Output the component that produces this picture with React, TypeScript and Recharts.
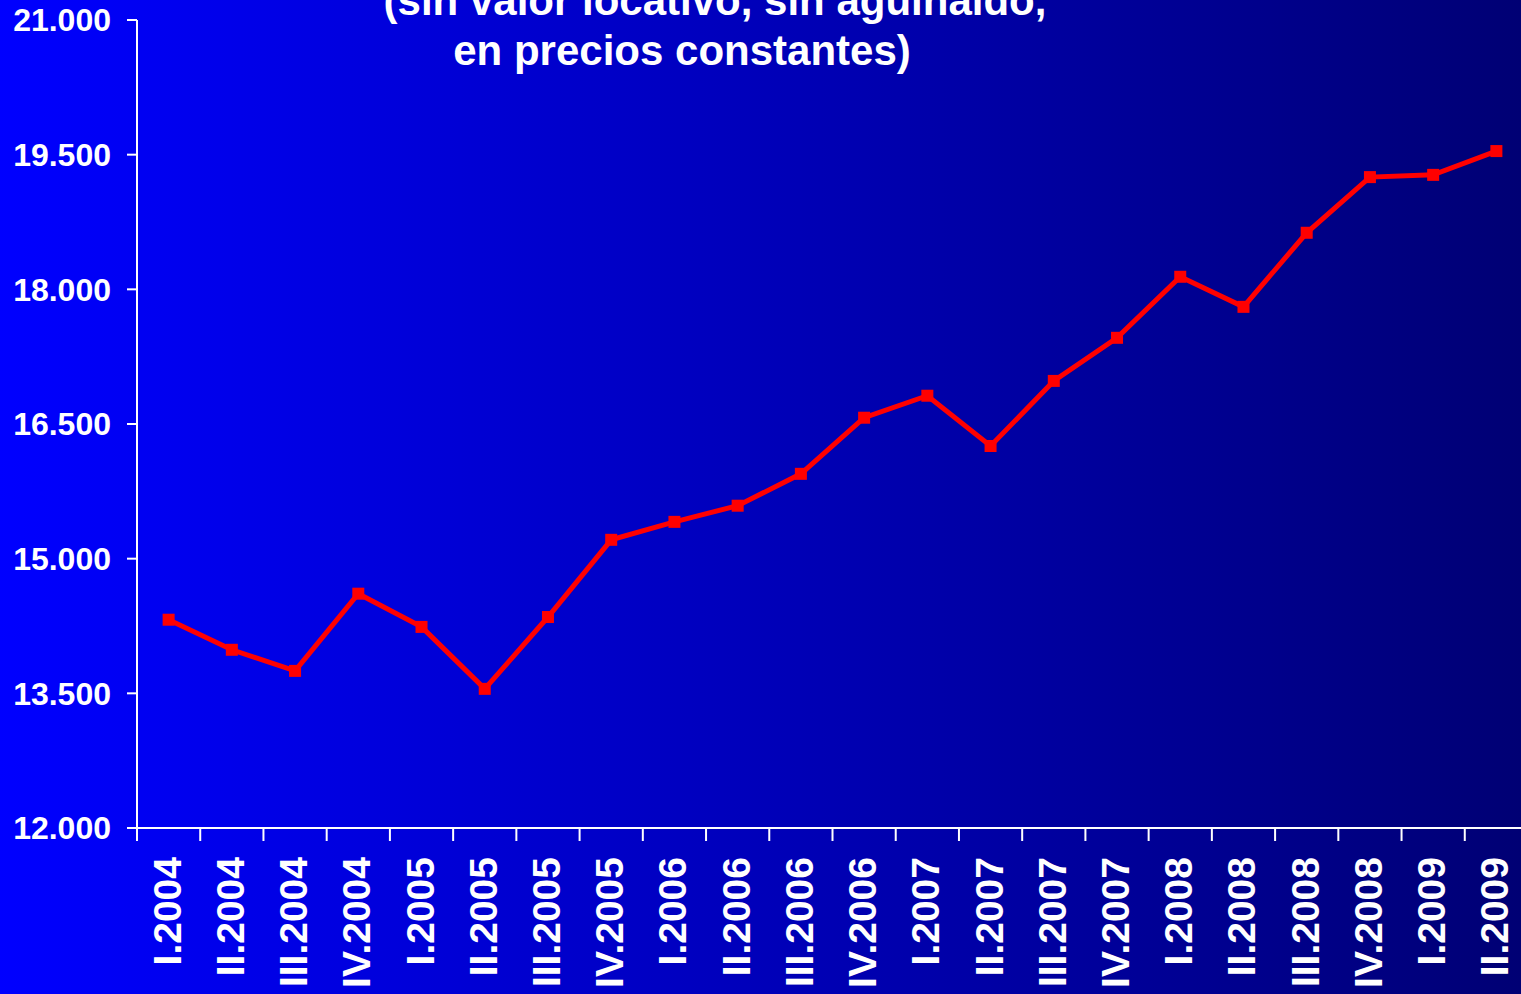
import React from "react";
import { LineChart, Line, XAxis, YAxis } from "recharts";

const quarters = [
  "I.2004", "II.2004", "III.2004", "IV.2004",
  "I.2005", "II.2005", "III.2005", "IV.2005",
  "I.2006", "II.2006", "III.2006", "IV.2006",
  "I.2007", "II.2007", "III.2007", "IV.2007",
  "I.2008", "II.2008", "III.2008", "IV.2008",
  "I.2009", "II.2009",
];

const ingreso = [
  14320, 13985, 13750, 14610,
  14240, 13550, 14350, 15210,
  15410, 15590, 15945, 16570,
  16815, 16255, 16980, 17460,
  18140, 17805, 18630, 19250,
  19275, 19540,
];

const yTicks = [12000, 13500, 15000, 16500, 18000, 19500, 21000];

const titleLines = ["(sin valor locativo, sin aguinaldo,", "en precios constantes)"];

const data = quarters.map((q, i) => ({ q, v: ingreso[i] }));

const W = 1540;
const H = 994;
const LEFT = 137;
const RIGHT = 12;
const BAND = (W - LEFT - RIGHT) / quarters.length;
const FONT = '"Liberation Sans", Arial, sans-serif';

const fmtNum = (v: number) => {
  const s = String(Math.round(v));
  return s.slice(0, s.length - 3) + "." + s.slice(-3);
};

// label in the middle of the category, tick mark on its left boundary
function QuarterTick({ x, y, payload }: any) {
  const left = x - BAND / 2;
  return (
    <g>
      <line x1={left} y1={y - 8} x2={left} y2={y + 5} stroke="#fff" strokeWidth={2} />
      <text
        transform={`translate(${x + 12},${y + 21}) rotate(-90)`}
        textAnchor="end"
        fill="#fff"
        fontSize={39}
        fontWeight="bold"
        fontFamily={FONT}
      >
        {payload.value}
      </text>
    </g>
  );
}

function Square({ cx, cy }: any) {
  if (cx == null || cy == null) return null;
  return <rect x={cx - 6} y={cy - 6} width={12} height={12} fill="#ff0000" />;
}

export default function App() {
  return (
    <div
      style={{
        position: "absolute",
        left: 0,
        top: 0,
        width: 1521,
        height: H,
        overflow: "hidden",
        background: "linear-gradient(to right, #0000ff, #000074)",
      }}
    >
      <LineChart width={W} height={H} data={data} margin={{ top: 20, right: RIGHT, left: 0, bottom: 0 }}>
        <XAxis
          dataKey="q"
          interval={0}
          height={166}
          padding={{ left: BAND / 2, right: BAND / 2 }}
          axisLine={{ stroke: "#fff", strokeWidth: 2 }}
          tickLine={false}
          tick={<QuarterTick />}
        />
        <YAxis
          width={LEFT}
          domain={[12000, 21000]}
          ticks={yTicks}
          interval={0}
          tickFormatter={fmtNum}
          axisLine={{ stroke: "#fff", strokeWidth: 2 }}
          tickLine={{ stroke: "#fff", strokeWidth: 2 }}
          tickSize={10}
          tickMargin={16}
          tick={{ fill: "#fff", fontSize: 32, fontWeight: "bold", fontFamily: FONT }}
        />
        <Line
          type="linear"
          dataKey="v"
          stroke="#ff0000"
          strokeWidth={5}
          dot={<Square />}
          activeDot={false}
          isAnimationActive={false}
        />
      </LineChart>
      <svg width={1521} height={100} style={{ position: "absolute", left: 0, top: 0, pointerEvents: "none" }}>
        <text x={715} y={15} textAnchor="middle" fill="#fff" fontSize={42} fontWeight="bold" fontFamily={FONT}>
          {titleLines[0]}
        </text>
        <text x={682} y={65} textAnchor="middle" fill="#fff" fontSize={42} fontWeight="bold" fontFamily={FONT}>
          {titleLines[1]}
        </text>
      </svg>
    </div>
  );
}
